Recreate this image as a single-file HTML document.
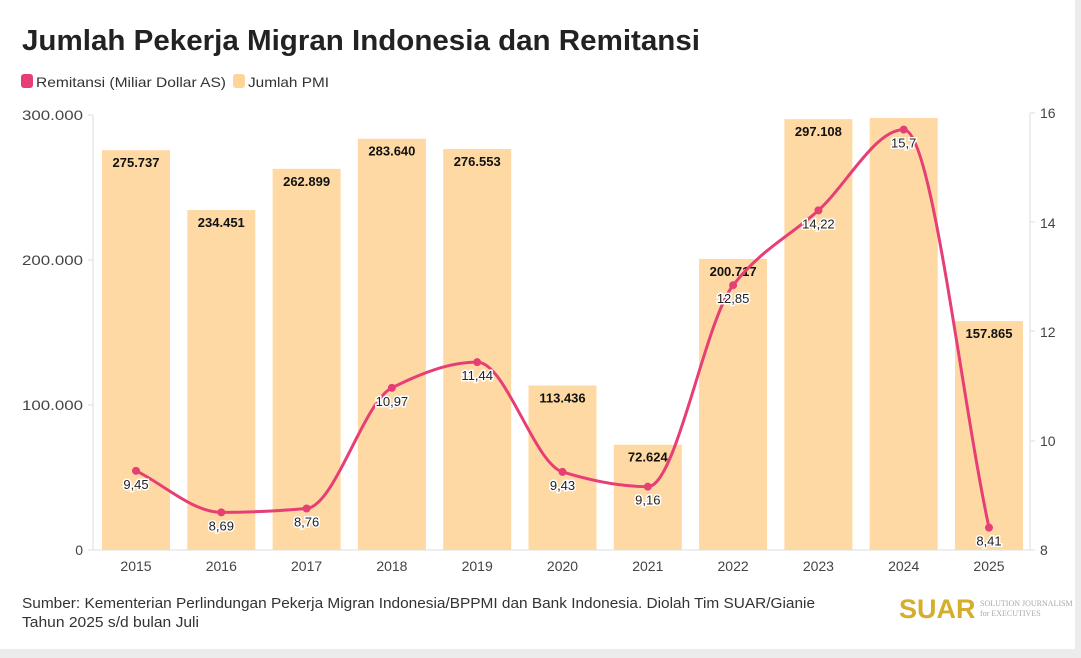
<!DOCTYPE html><html><head><meta charset="utf-8"><style>
body{margin:0;background:#ececec;width:1081px;height:658px;overflow:hidden;font-family:"Liberation Sans",sans-serif}
#card{position:absolute;left:0;top:0;width:1075px;height:649px;background:#fff}
</style></head><body><div id="card">
<svg width="1081" height="658" style="position:absolute;left:0;top:0" font-family="Liberation Sans, sans-serif">
<text x="22" y="50" font-size="29" font-weight="bold" fill="#222" textLength="678" lengthAdjust="spacingAndGlyphs">Jumlah Pekerja Migran Indonesia dan Remitansi</text>
<rect x="21" y="74" width="12" height="14" rx="3" fill="#e63f76"/>
<text x="36" y="87" font-size="14" fill="#333" textLength="190" lengthAdjust="spacingAndGlyphs">Remitansi (Miliar Dollar AS)</text>
<rect x="233" y="74" width="12" height="14" rx="3" fill="#ffd49a"/>
<text x="248" y="87" font-size="14" fill="#333" textLength="81" lengthAdjust="spacingAndGlyphs">Jumlah PMI</text>
<g font-size="14" fill="#444" text-anchor="end">
<text x="83" y="120" textLength="61" lengthAdjust="spacingAndGlyphs">300.000</text><text x="83" y="265" textLength="61" lengthAdjust="spacingAndGlyphs">200.000</text><text x="83" y="410" textLength="61" lengthAdjust="spacingAndGlyphs">100.000</text><text x="83" y="555">0</text></g>
<g font-size="14" fill="#444"><text x="1040" y="118">16</text><text x="1040" y="228">14</text><text x="1040" y="337">12</text><text x="1040" y="446">10</text><text x="1040" y="555">8</text></g>
<g stroke="#ddd" fill="none"><line x1="93" y1="115" x2="93" y2="550"/><line x1="88" y1="115" x2="93" y2="115"/><line x1="88" y1="260" x2="93" y2="260"/><line x1="88" y1="405" x2="93" y2="405"/><line x1="88" y1="550" x2="93" y2="550"/>
<line x1="1030" y1="113" x2="1030" y2="550"/><line x1="1030" y1="113" x2="1035" y2="113"/><line x1="1030" y1="222" x2="1035" y2="222"/><line x1="1030" y1="331" x2="1035" y2="331"/><line x1="1030" y1="441" x2="1035" y2="441"/><line x1="1030" y1="550" x2="1035" y2="550"/>
<line x1="93" y1="550" x2="1030" y2="550"/></g>
<g id="bars"></g><path id="ln" fill="none" stroke="#e63f76" stroke-width="3"/><g id="pts"></g>
<text x="22" y="608" font-size="14.5" fill="#333" textLength="793" lengthAdjust="spacingAndGlyphs">Sumber: Kementerian Perlindungan Pekerja Migran Indonesia/BPPMI dan Bank Indonesia. Diolah Tim SUAR/Gianie</text>
<text x="22" y="627" font-size="14.5" fill="#333" textLength="177" lengthAdjust="spacingAndGlyphs">Tahun 2025 s/d bulan Juli</text>
<text x="899" y="618" font-size="27" font-weight="bold" fill="#d4ae2c">SUAR</text>
<text x="980" y="606" font-size="8" fill="#aaa" font-family="Liberation Serif, serif">SOLUTION JOURNALISM</text>
<text x="980" y="616" font-size="8" fill="#aaa" font-family="Liberation Serif, serif">for EXECUTIVES</text>
</svg>
<script>
const yrs=[2015,2016,2017,2018,2019,2020,2021,2022,2023,2024,2025];
const pmi=[275737,234451,262899,283640,276553,113436,72624,200717,297108,297108,157865];
const rem=[9.45,8.69,8.76,10.97,11.44,9.43,9.16,12.85,14.22,15.7,8.41];
const lbl=["275.737","234.451","262.899","283.640","276.553","113.436","72.624","200.717","297.108","","157.865"];
let b="",p="",X=[],Y=[];
yrs.forEach((y,i)=>{const cx=136+i*85.3;const top=i==9?118:550-pmi[i]*0.00145;
b+=`<rect x="${cx-34}" y="${top}" width="68" height="${550-top}" fill="#ffd9a3"/>`;
if(lbl[i])b+=`<text x="${cx}" y="${top+17}" font-size="13" font-weight="bold" text-anchor="middle" fill="#111">${lbl[i]}</text>`;
b+=`<text x="${cx}" y="571" font-size="14" text-anchor="middle" fill="#444">${y}</text>`;
X.push(cx);Y.push(550-(rem[i]-8)*54.6);});
document.getElementById('bars').innerHTML=b;
const n=X.length,d=[],m=[];for(let i=0;i<n-1;i++)d.push((Y[i+1]-Y[i])/(X[i+1]-X[i]));
m[0]=d[0];m[n-1]=d[n-2];for(let i=1;i<n-1;i++){const a=d[i-1],c=d[i];m[i]=a*c>0?2/(1/a+1/c):0;}
let s=`M${X[0]},${Y[0]}`;for(let i=0;i<n-1;i++){const h=(X[i+1]-X[i])/3;s+=` C${X[i]+h},${Y[i]+m[i]*h} ${X[i+1]-h},${Y[i+1]-m[i+1]*h} ${X[i+1]},${Y[i+1]}`;}
document.getElementById('ln').setAttribute('d',s);
rem.forEach((v,i)=>{const t=String(v).replace('.',',');
p+=`<circle cx="${X[i]}" cy="${Y[i]}" r="4" fill="#e63f76"/><text x="${X[i]}" y="${Y[i]+18}" font-size="13" text-anchor="middle" fill="#222" stroke="#fff" stroke-width="3" paint-order="stroke">${t}</text>`;});
document.getElementById('pts').innerHTML=p;
</script></div></body></html>
